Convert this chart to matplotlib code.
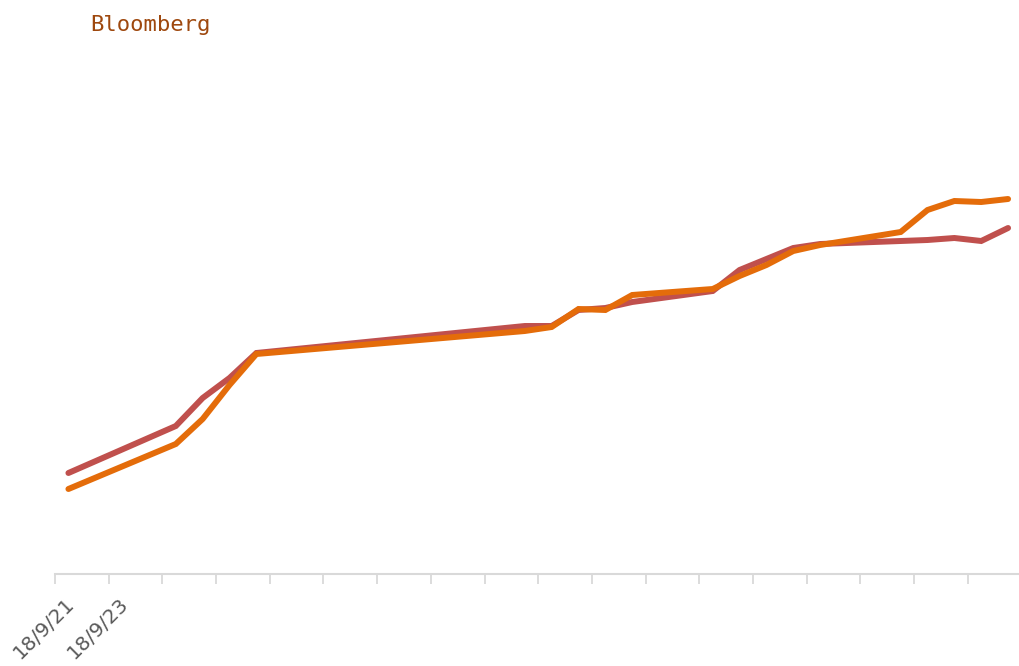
import matplotlib
matplotlib.use("Agg")
import matplotlib.pyplot as plt
import matplotlib.transforms as mtransforms
import pandas as pd

# trading days (China, Sep-Oct 2018)
dates = ["2018-09-21", "2018-09-25", "2018-09-26", "2018-09-27", "2018-09-28",
         "2018-10-08", "2018-10-09", "2018-10-10", "2018-10-11", "2018-10-12",
         "2018-10-15", "2018-10-16", "2018-10-17", "2018-10-18", "2018-10-19",
         "2018-10-22", "2018-10-23", "2018-10-24", "2018-10-25", "2018-10-26"]

# series values (no value axis shown, relative units)
red_series = [101, 148, 176, 196, 221, 248, 248, 264, 266, 272,
              283, 304, 315, 326, 330, 333, 334, 336, 333, 346]
orange_series = [85, 130, 155, 189, 220, 243, 247, 265, 264, 279,
                 285, 298, 309, 323, 329, 342, 364, 373, 372, 375]

tick_labels = ["18/9/21", "18/9/23"]

x = pd.to_datetime(dates) + pd.Timedelta(hours=12)

fig = plt.figure(figsize=(10.19, 6.66), dpi=100)
ax = fig.add_axes([55 / 1019, 92 / 666, 963 / 1019, 534 / 666])

ax.plot(x, red_series, color="#c0504d", linewidth=4.3, solid_capstyle="round",
        solid_joinstyle="miter")
ax.plot(x, orange_series, color="#e46c0a", linewidth=4.3, solid_capstyle="round",
        solid_joinstyle="miter")

start = pd.Timestamp("2018-09-21")
ax.set_xlim(start, start + pd.Timedelta(days=35.87))
ax.set_ylim(0, 534)

ticks = pd.date_range(start, periods=18, freq="2D")
ax.set_xticks(ticks)
labels = [""] * len(ticks)
labels[0], labels[1] = tick_labels
ax.set_xticklabels(labels, rotation=45, ha="right", rotation_mode="anchor",
                   fontsize=14.5, color="#595959")
ax.tick_params(axis="x", length=7, width=1.3, color="#d9d9d9", pad=5)
shift = mtransforms.ScaledTranslation(10 / 100, -3 / 100, fig.dpi_scale_trans)
for lab in ax.get_xticklabels():
    lab.set_transform(lab.get_transform() + shift)
ax.set_yticks([])

for side in ["top", "right", "left"]:
    ax.spines[side].set_visible(False)
ax.spines["bottom"].set_color("#d9d9d9")
ax.spines["bottom"].set_linewidth(1.5)

fig.text(90 / 1019, 1 - 25 / 666, "Bloomberg", fontsize=16, color="#9e480e",
         family="DejaVu Sans Mono", va="center", ha="left")

fig.savefig("out.png", dpi=100)
